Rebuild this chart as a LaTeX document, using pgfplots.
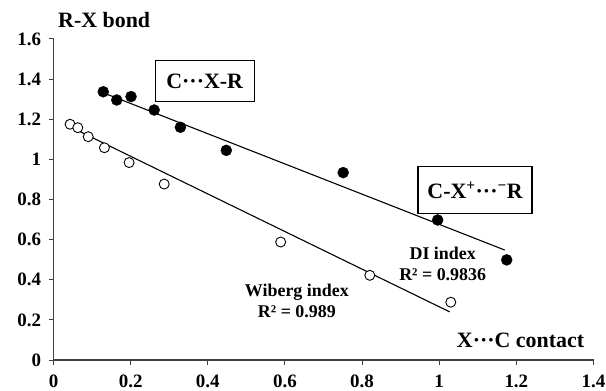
\documentclass[border=0pt]{standalone}
\usepackage{fontspec}
\setmainfont{Liberation Serif}
\usepackage{pgfplots}
\pgfplotsset{compat=1.18}
\begin{document}
\begin{tikzpicture}
\useasboundingbox (-53.5bp,-31bp) rectangle (552.5bp,360bp);
\begin{axis}[
  at={(0,0)}, anchor=south west,
  scale only axis, width=540bp, height=321bp,
  xmin=0, xmax=1.4, ymin=0, ymax=1.6,
  axis x line=bottom, axis y line=left,
  axis line style={-, line width=1.3pt, black!75},
  xtick={0,0.2,0.4,0.6,0.8,1,1.2,1.4},
  ytick={0,0.2,0.4,0.6,0.8,1,1.2,1.4,1.6},
  tick align=outside, major tick length=5bp,
  tick style={black!75, line width=1pt},
  ticklabel style={font=\fontsize{19}{19}\selectfont\bfseries},
  /pgf/number format/assume math mode=true,
  /pgf/number format/fixed,
  yticklabel style={xshift=-4bp},
  xticklabel style={yshift=-6bp},
  clip=false,
]
\addplot[black, line width=1.1pt, no marks] coordinates {(0.125,1.335) (1.17,0.548)};
\addplot[black, line width=1.1pt, no marks] coordinates {(0.035,1.17) (1.027,0.24)};
\addplot[only marks, mark=*, mark size=5.5bp, mark options={fill=black, draw=black}] coordinates {
(0.129,1.337) (0.164,1.296) (0.201,1.313) (0.261,1.246) (0.329,1.160) (0.448,1.045) (0.751,0.934) (0.996,0.698) (1.175,0.499)};
\addplot[only marks, mark=*, mark size=5bp, mark options={fill=white, draw=black, line width=0.9pt}] coordinates {
(0.043,1.175) (0.063,1.158) (0.090,1.113) (0.132,1.058) (0.196,0.984) (0.287,0.877) (0.589,0.588) (0.820,0.422) (1.030,0.288)};
\node[anchor=west, inner sep=0pt, font=\fontsize{22}{22}\selectfont\bfseries] at (axis cs:0.0117,1.695) {R-X bond};
\node[font=\fontsize{22}{22}\selectfont\bfseries] at (axis cs:1.211,0.10) {X···C contact};
\node[draw=black, line width=1.4pt, minimum width=99bp, minimum height=41bp, inner sep=2bp, font=\fontsize{22}{22}\selectfont\bfseries] at (axis cs:0.392,1.391) {C···X-R};
\node[draw=black, line width=1.4pt, minimum width=114bp, minimum height=47bp, inner sep=2bp, font=\fontsize{22}{22}\selectfont\bfseries] at (axis cs:1.093,0.847) {C-X\textsuperscript{+}···\textsuperscript{−}R};
\node[align=center, font=\fontsize{18}{21}\selectfont\bfseries] at (axis cs:1.009,0.48) {DI index\\R² = 0.9836};
\node[align=center, font=\fontsize{18}{21}\selectfont\bfseries] at (axis cs:0.631,0.294) {Wiberg index\\R² = 0.989};
\end{axis}
\end{tikzpicture}
\end{document}
